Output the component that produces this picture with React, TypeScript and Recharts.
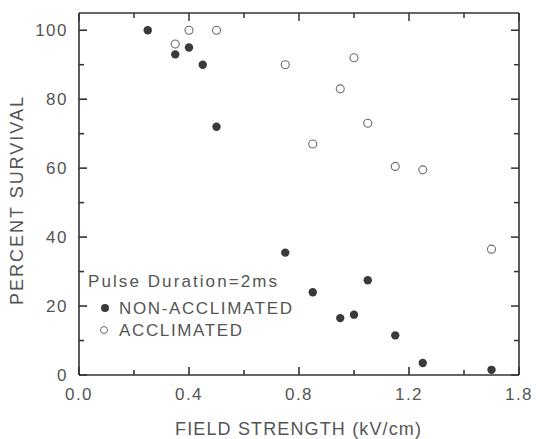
import React from 'react';
import { ScatterChart, Scatter, XAxis, YAxis } from 'recharts';

// field strength (kV/cm) vs percent survival
const nonAcclimatedField = [0.25, 0.35, 0.4, 0.45, 0.5, 0.75, 0.85, 0.95, 1.0, 1.05, 1.15, 1.25, 1.5];
const nonAcclimatedSurvival = [100, 93, 95, 90, 72, 35.5, 24, 16.5, 17.5, 27.5, 11.5, 3.5, 1.5];
const acclimatedField = [0.35, 0.4, 0.5, 0.75, 0.85, 0.95, 1.0, 1.05, 1.15, 1.25, 1.5];
const acclimatedSurvival = [96, 100, 100, 90, 67, 83, 92, 73, 60.5, 59.5, 36.5];

const xTicks = [0, 0.2, 0.4, 0.6, 0.8, 1.0, 1.2, 1.4, 1.6];
const xLabelTicks = [0, 0.4, 0.8, 1.2, 1.6];
const xTickLabels = ['0.0', '0.4', '0.8', '1.2', '1.8'];
const yTicks = [0, 10, 20, 30, 40, 50, 60, 70, 80, 90, 100];
const yLabelTicks = [0, 20, 40, 60, 80, 100];

const font = '"Liberation Sans", Arial, sans-serif';
const axisColor = '#333';
const textColor = '#555';

const nonAcclimated = nonAcclimatedField.map((x, i) => ({ x, y: nonAcclimatedSurvival[i] }));
const acclimated = acclimatedField.map((x, i) => ({ x, y: acclimatedSurvival[i] }));

const tickLen = (major: boolean) => (major ? 8 : 5);

const BottomTick = (props: any) => {
  const { x, y, payload } = props;
  const i = xLabelTicks.indexOf(payload.value);
  return (
    <g>
      <path d={`M${x},${y}V${y - tickLen(i >= 0)}`} stroke={axisColor} strokeWidth={1.6} fill="none" />
      {i >= 0 && (
        <text x={x} y={y + 25} textAnchor="middle" fontSize={17} letterSpacing={1.5} fill={textColor} fontFamily={font}>
          {xTickLabels[i]}
        </text>
      )}
    </g>
  );
};

const TopTick = (props: any) => {
  const { x, y, payload } = props;
  const major = xLabelTicks.includes(payload.value);
  return <path d={`M${x},${y}V${y + tickLen(major)}`} stroke={axisColor} strokeWidth={1.5} fill="none" />;
};

const LeftTick = (props: any) => {
  const { x, y, payload } = props;
  const major = yLabelTicks.includes(payload.value);
  return (
    <g>
      <path d={`M${x},${y}H${x + tickLen(major)}`} stroke={axisColor} strokeWidth={1.6} fill="none" />
      {major && (
        <text x={x - 11} y={y + 6} textAnchor="end" fontSize={17} letterSpacing={1.5} fill={textColor} fontFamily={font}>
          {payload.value}
        </text>
      )}
    </g>
  );
};

const RightTick = (props: any) => {
  const { x, y, payload } = props;
  const major = yLabelTicks.includes(payload.value);
  return <path d={`M${x},${y}H${x - tickLen(major)}`} stroke={axisColor} strokeWidth={1.5} fill="none" />;
};

const FilledDot = (props: any) => <circle cx={props.cx} cy={props.cy} r={4.2} fill="#3a3a3a" />;
const OpenDot = (props: any) => (
  <circle cx={props.cx} cy={props.cy} r={4} fill="#fff" stroke="#6a6a6a" strokeWidth={1.1} />
);

// axis titles and the in-plot legend, laid over the chart
const Overlay = () => (
  <svg width={536} height={439} style={{ position: 'absolute', left: 0, top: 0, pointerEvents: 'none' }}>
    <text x={298} y={435} textAnchor="middle" fontSize={18} fill={textColor} fontFamily={font}
      textLength={246} lengthAdjust="spacing">
      FIELD STRENGTH (kV/cm)
    </text>
    <text x={17} y={201} transform="rotate(-90, 17, 201)" textAnchor="middle" dominantBaseline="central"
      fontSize={18} fill={textColor} fontFamily={font} textLength={208} lengthAdjust="spacing">
      PERCENT SURVIVAL
    </text>
    <g transform="translate(80, 262)">
      <text x={8} y={25} fontSize={17} fill={textColor} fontFamily={font} textLength={189} lengthAdjust="spacing">
        Pulse Duration=2ms
      </text>
      <circle cx={25} cy={46} r={4} fill="#3a3a3a" />
      <text x={39} y={51.5} fontSize={17} fill={textColor} fontFamily={font} textLength={173} lengthAdjust="spacing">
        NON-ACCLIMATED
      </text>
      <circle cx={24} cy={68} r={3.5} fill="#fff" stroke="#6a6a6a" strokeWidth={1} />
      <text x={39} y={74} fontSize={17} fill={textColor} fontFamily={font} textLength={123} lengthAdjust="spacing">
        ACCLIMATED
      </text>
    </g>
  </svg>
);

export default function App() {
  return (
    <div style={{ position: 'absolute', left: 0, top: 0, width: 536, height: 439, background: '#fff' }}>
      <ScatterChart width={536} height={439} margin={{ top: 12, right: 16, bottom: 0, left: 0 }}>
        <XAxis type="number" dataKey="x" domain={[0, 1.6]} ticks={xTicks} interval={0} height={64}
          tickSize={0} tickMargin={0} tick={<BottomTick />} axisLine={{ stroke: axisColor, strokeWidth: 1.6 }} />
        <XAxis xAxisId="top" orientation="top" type="number" dataKey="x" domain={[0, 1.6]} allowDataOverflow
          ticks={xTicks} interval={0} height={1} tickSize={0} tickMargin={0} tick={<TopTick />}
          axisLine={{ stroke: axisColor, strokeWidth: 1.6 }} />
        <YAxis type="number" dataKey="y" domain={[0, 105]} ticks={yTicks} interval={0} width={79}
          tickSize={0} tickMargin={0} tick={<LeftTick />} axisLine={{ stroke: axisColor, strokeWidth: 1.6 }} />
        <YAxis yAxisId="right" orientation="right" type="number" dataKey="y" domain={[0, 105]} allowDataOverflow
          ticks={yTicks} interval={0} width={1} tickSize={0} tickMargin={0} tick={<RightTick />}
          axisLine={{ stroke: axisColor, strokeWidth: 1.6 }} />
        <Scatter name="ACCLIMATED" data={acclimated} xAxisId="top" yAxisId="right" shape={<OpenDot />} isAnimationActive={false} />
        <Scatter name="NON-ACCLIMATED" data={nonAcclimated} shape={<FilledDot />} isAnimationActive={false} />
      </ScatterChart>
      <Overlay />
    </div>
  );
}
